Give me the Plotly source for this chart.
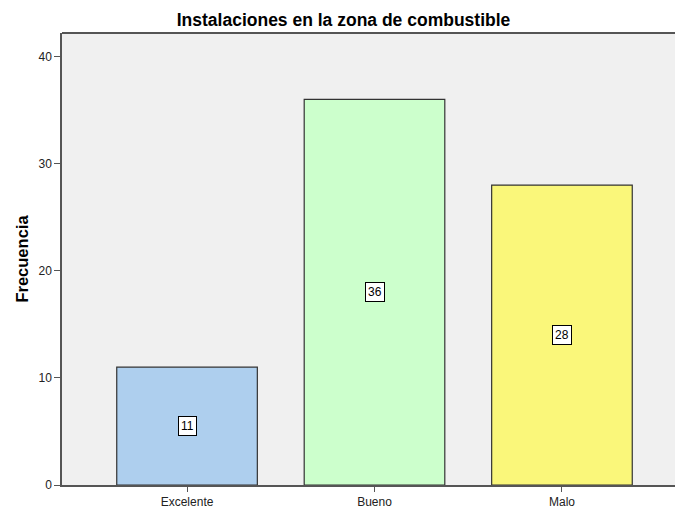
import plotly.graph_objects as go

categories = ["Excelente", "Bueno", "Malo"]
values = [11, 36, 28]
colors = ["#AECFEE", "#CCFFCC", "#FAF77A"]
y_ticks = [0, 10, 20, 30, 40]

fig = go.Figure()
fig.add_trace(go.Bar(
    x=categories, y=values, width=0.75,
    marker=dict(color=colors, line=dict(color="#333333", width=1.2)),
    hoverinfo="skip", showlegend=False,
))

for c, v in zip(categories, values):
    fig.add_annotation(
        x=c, y=v / 2, text=str(v), showarrow=False,
        font=dict(family="Arial, Liberation Sans", size=12, color="black"),
        bgcolor="white", bordercolor="black", borderwidth=1, borderpad=2,
    )

# top border of plot area
fig.add_shape(type="line", xref="paper", yref="paper", x0=0, x1=1, y0=1, y1=1,
              line=dict(color="#555555", width=2))

fig.update_layout(
    width=687, height=509,
    margin=dict(l=62, r=0, t=33, b=22),
    paper_bgcolor="white", plot_bgcolor="#F0F0F0",
    title=dict(text="<b>Instalaciones en la zona de combustible</b>", x=0.5, xanchor="center",
               xref="container",
               y=0.961, yanchor="middle",
               font=dict(family="Arial, Liberation Sans", size=17.5, color="black")),
    font=dict(family="Arial, Liberation Sans", size=12, color="#222222"),
    bargap=0.25,
)
fig.update_xaxes(
    range=[-0.667, 2.667], showline=True, linecolor="#555555", linewidth=1.5, mirror=False,
    ticks="outside", ticklen=5, tickcolor="#555555", showgrid=False,
    tickfont=dict(size=12, color="#222222"),
)
fig.update_yaxes(
    range=[0, 42.2], tickvals=y_ticks, showline=True, linecolor="#555555", linewidth=1.5,
    ticks="outside", ticklen=6, tickcolor="#555555", showgrid=False, zeroline=False,
    tickfont=dict(size=12, color="#222222"),
    title=dict(text="<b>Frecuencia</b>", font=dict(size=16.5, color="black"), standoff=6),
)
fig.write_html(
    "out.html", config={"displayModeBar": False, "responsive": False},
    post_script=("document.body.style.margin='0';document.body.style.overflow='hidden';"
                 "document.documentElement.style.overflow='hidden';"),
)
